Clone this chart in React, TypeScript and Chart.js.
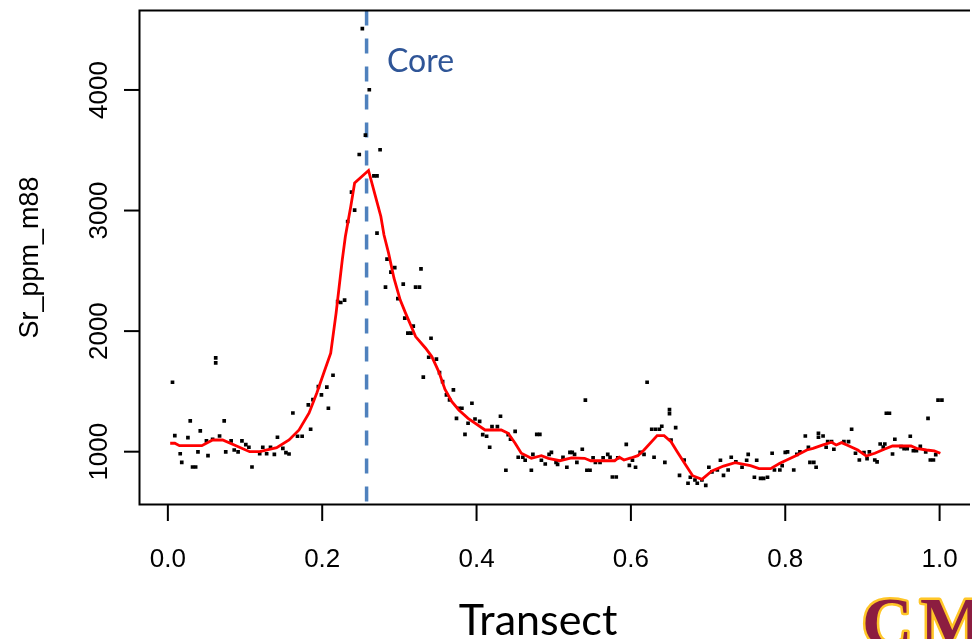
import React, { useEffect, useRef } from "react";
import { Chart, registerables } from "chart.js";

Chart.register(...registerables);

// ---- data ----
const lineX = [0.003, 0.009, 0.015, 0.044, 0.058, 0.071, 0.106, 0.119, 0.141, 0.157, 0.170, 0.183, 0.193, 0.202, 0.211, 0.218, 0.222, 0.226, 0.230, 0.237, 0.242, 0.260, 0.269, 0.276, 0.280, 0.286, 0.293, 0.301, 0.308, 0.321, 0.334, 0.342, 0.351, 0.359, 0.368, 0.377, 0.389, 0.411, 0.432, 0.441, 0.450, 0.458, 0.471, 0.484, 0.493, 0.508, 0.523, 0.540, 0.548, 0.579, 0.585, 0.591, 0.600, 0.609, 0.617, 0.634, 0.643, 0.652, 0.660, 0.671, 0.680, 0.692, 0.705, 0.720, 0.735, 0.755, 0.766, 0.781, 0.793, 0.813, 0.828, 0.836, 0.849, 0.860, 0.866, 0.873, 0.882, 0.894, 0.905, 0.916, 0.929, 0.939, 0.963, 0.970, 0.983, 0.993, 1.001];
const lineY = [1070, 1070, 1050, 1050, 1097, 1097, 1000, 1000, 1033, 1097, 1180, 1321, 1487, 1653, 1817, 2149, 2370, 2591, 2785, 3034, 3228, 3332, 3117, 2951, 2799, 2647, 2439, 2259, 2149, 1955, 1858, 1789, 1664, 1518, 1415, 1346, 1277, 1180, 1180, 1153, 1070, 987, 945, 967, 945, 925, 948, 945, 925, 925, 954, 931, 948, 967, 1014, 1133, 1133, 1083, 1000, 890, 801, 771, 840, 881, 909, 884, 859, 859, 904, 964, 1014, 1028, 1056, 1078, 1056, 1075, 1050, 1014, 964, 987, 1022, 1047, 1047, 1028, 1014, 1006, 987];

const pointX = [0.006, 0.062, 0.062, 0.009, 0.026, 0.029, 0.042, 0.016, 0.018, 0.032, 0.036, 0.039, 0.052, 0.050, 0.058, 0.067, 0.073, 0.075, 0.082, 0.086, 0.091, 0.096, 0.101, 0.105, 0.109, 0.119, 0.123, 0.128, 0.133, 0.138, 0.142, 0.149, 0.153, 0.157, 0.162, 0.168, 0.174, 0.185, 0.182, 0.188, 0.195, 0.199, 0.206, 0.208,
  0.252, 0.261, 0.256, 0.248, 0.275, 0.267, 0.271, 0.238, 0.242, 0.233, 0.271, 0.284, 0.294, 0.289, 0.328, 0.282, 0.305, 0.321, 0.326, 0.298, 0.220, 0.229, 0.224, 0.307, 0.318, 0.311, 0.315, 0.341, 0.338, 0.348, 0.331, 0.352, 0.356, 0.214, 0.361, 0.370, 0.365, 0.377, 0.381, 0.394, 0.374, 0.389, 0.398, 0.385, 0.404, 0.420, 0.427, 0.431, 0.408, 0.413, 0.417, 0.441, 0.450, 0.444, 0.438, 0.454, 0.460, 0.463, 0.473, 0.471, 0.478, 0.482, 0.484, 0.489, 0.494, 0.497, 0.505, 0.503, 0.512, 0.517, 0.521, 0.524, 0.527, 0.530, 0.537, 0.541, 0.543, 0.547, 0.551, 0.554, 0.560, 0.564, 0.570, 0.573, 0.576, 0.581, 0.583, 0.594, 0.598, 0.602, 0.606, 0.612, 0.617, 0.621, 0.627, 0.632, 0.637, 0.630, 0.640, 0.644, 0.650, 0.650, 0.652, 0.658, 0.669, 0.663, 0.677, 0.674, 0.683, 0.686, 0.692, 0.697, 0.701, 0.705, 0.712, 0.716, 0.720, 0.726, 0.730, 0.736, 0.744, 0.750, 0.752, 0.760, 0.763, 0.768, 0.772, 0.777, 0.783, 0.786, 0.793, 0.796, 0.800, 0.803, 0.811, 0.815, 0.819, 0.826, 0.830, 0.832, 0.837, 0.840, 0.843, 0.843, 0.849, 0.853, 0.855, 0.860, 0.863, 0.876, 0.882, 0.886, 0.891, 0.896, 0.902, 0.906, 0.909, 0.916, 0.919, 0.923, 0.927, 0.929, 0.931, 0.935, 0.939, 0.942, 0.950, 0.954, 0.958, 0.962, 0.966, 0.970, 0.975, 0.982, 0.985, 0.988, 0.992, 0.995, 0.998, 1.003];
const pointY = [1576, 1778, 1736, 1133, 1116, 1255, 1172, 983, 912, 873, 873, 998, 967, 1089, 1103, 1130, 1255, 998, 1089, 1014, 998, 1089, 1058, 1037, 873, 983, 1037, 983, 1037, 978, 1120, 1028, 992, 981, 1321, 1128, 1128, 1186, 1388, 1432, 1540, 1471, 1535, 1360,
  4508, 4002, 3626, 3465, 3504, 3288, 3288, 3153, 3004, 2909, 2813, 2597, 2527, 2489, 2516, 2365, 2390, 2365, 2365, 2270, 2245, 2257, 2237, 2107, 2041, 1983, 1983, 1941, 1783, 1767, 1618, 1656, 1581, 1634, 1471, 1512, 1429, 1360, 1360, 1402, 1277, 1236, 1271, 1144, 1251, 1208, 1208, 1294, 1141, 1128, 1037, 1141, 1169, 1103, 846, 954, 954, 929, 978, 846, 1144, 1144, 929, 898, 978, 995, 895, 912, 954, 871, 995, 995, 978, 912, 1020, 1427, 846, 846, 950, 912, 912, 950, 978, 954, 790, 790, 950, 1061, 887, 929, 871, 995, 978, 1576, 1186, 1186, 1186, 954, 1211, 912, 1349, 1315, 1097, 1199, 931, 804, 788, 738, 765, 738, 765, 721, 871, 832, 848, 929, 804, 848, 954, 915, 871, 929, 978, 788, 929, 779, 779, 788, 987, 848, 848, 884, 995, 998, 848, 978, 998, 1130, 1037, 912, 912, 871, 1153, 1120, 1130, 1037, 1083, 1083, 1020, 1083, 1083, 1186, 987, 931, 992, 942, 998, 931, 915, 1064, 1039, 1064, 1319, 1319, 981, 1103, 1042, 1025, 1025, 1128, 1008, 1008, 1045, 998, 1277, 931, 931, 975, 1427, 1427];

const xTicks = [0, 0.2, 0.4, 0.6, 0.8, 1.0];
const xTickLabels = ["0.0", "0.2", "0.4", "0.6", "0.8", "1.0"];
const yTicks = [1000, 2000, 3000, 4000];
const yTickLabels = ["1000", "2000", "3000", "4000"];
const coreX = 0.2575;
const coreLabel = "Core";
const xTitle = "Transect";
const yTitle = "Sr_ppm_m88";

const overlay = {
  id: "overlay",
  beforeDatasetsDraw(chart: any) {
    const { ctx, chartArea, scales } = chart;
    const px = scales.x.getPixelForValue(coreX);
    ctx.save();
    ctx.strokeStyle = "#4F81BD";
    ctx.lineWidth = 3.5;
    ctx.setLineDash([15, 13]);
    ctx.beginPath();
    ctx.moveTo(px, chartArea.top);
    ctx.lineTo(px, chartArea.bottom);
    ctx.stroke();
    ctx.restore();
  },
  afterDraw(chart: any) {
    const { ctx, chartArea, scales } = chart;
    const { left, top, right, bottom } = chartArea;
    ctx.save();
    // box
    ctx.strokeStyle = "#000";
    ctx.lineWidth = 2;
    ctx.beginPath();
    ctx.moveTo(right + 2, top);
    ctx.lineTo(left, top);
    ctx.lineTo(left, bottom);
    ctx.lineTo(right + 2, bottom);
    ctx.stroke();
    // x ticks
    ctx.fillStyle = "#000";
    ctx.font = "26px 'Liberation Sans', Arial, sans-serif";
    ctx.textAlign = "center";
    ctx.textBaseline = "alphabetic";
    xTicks.forEach((v, i) => {
      const px = scales.x.getPixelForValue(v);
      ctx.beginPath();
      ctx.moveTo(px, bottom);
      ctx.lineTo(px, bottom + 16.5);
      ctx.stroke();
      ctx.fillText(xTickLabels[i], px, 567);
    });
    // y ticks
    yTicks.forEach((v, i) => {
      const py = scales.y.getPixelForValue(v);
      ctx.beginPath();
      ctx.moveTo(left, py);
      ctx.lineTo(left - 15.5, py);
      ctx.stroke();
      ctx.save();
      ctx.translate(107, py);
      ctx.rotate(-Math.PI / 2);
      ctx.fillText(yTickLabels[i], 0, 0);
      ctx.restore();
    });
    // y title
    ctx.save();
    ctx.font = "27px 'Liberation Sans', Arial, sans-serif";
    ctx.translate(38, (top + bottom) / 2);
    ctx.rotate(-Math.PI / 2);
    ctx.fillText(yTitle, 0, 0);
    ctx.restore();
    // x title
    ctx.font = "43px Lato, 'Open Sans', sans-serif";
    ctx.fillText(xTitle, 538, 635);
    // core label
    ctx.textAlign = "left";
    ctx.fillStyle = "#2F5597";
    ctx.font = "32px Lato, 'Open Sans', sans-serif";
    ctx.fillText(coreLabel, 387, 71.5);
    // logo fragment
    ctx.font = "bold 70px 'Liberation Serif', serif";
    ctx.lineJoin = "round";
    ctx.strokeStyle = "#FFC627";
    ctx.lineWidth = 5;
    ctx.fillStyle = "#8C1D40";
    ctx.strokeText("C", 862, 646);
    ctx.fillText("C", 862, 646);
    ctx.strokeText("M", 920, 646);
    ctx.fillText("M", 920, 646);
    ctx.restore();
  },
};

export default function App() {
  const ref = useRef<HTMLCanvasElement | null>(null);
  useEffect(() => {
    if (!ref.current) return;
    const chart = new Chart(ref.current, {
      type: "scatter",
      data: {
        datasets: [
          {
            data: lineX.map((x, i) => ({ x, y: lineY[i] })),
            showLine: true,
            borderColor: "#FF0000",
            borderWidth: 2.8,
            pointRadius: 0,
            tension: 0,
            order: 0,
          } as any,
          {
            data: pointX.map((x, i) => ({ x, y: pointY[i] })),
            pointStyle: "rect",
            pointRadius: 2.6,
            backgroundColor: "#000",
            borderWidth: 0,
            order: 1,
          } as any,
        ],
      },
      options: {
        responsive: false,
        animation: false,
        layout: { padding: { left: 139.5, top: 10.5, right: 0, bottom: 134.5 } },
        plugins: { legend: { display: false }, tooltip: { enabled: false } },
        scales: {
          x: { type: "linear", min: -0.03675, max: 1.0368, display: false },
          y: { type: "linear", min: 562, max: 4659, display: false },
        },
      },
      plugins: [overlay],
    });
    return () => chart.destroy();
  }, []);
  return (
    <div style={{ position: "absolute", left: 0, top: 0, width: 972, height: 639, overflow: "hidden", background: "#fff" }}>
      <canvas ref={ref} width={972} height={639} />
    </div>
  );
}
